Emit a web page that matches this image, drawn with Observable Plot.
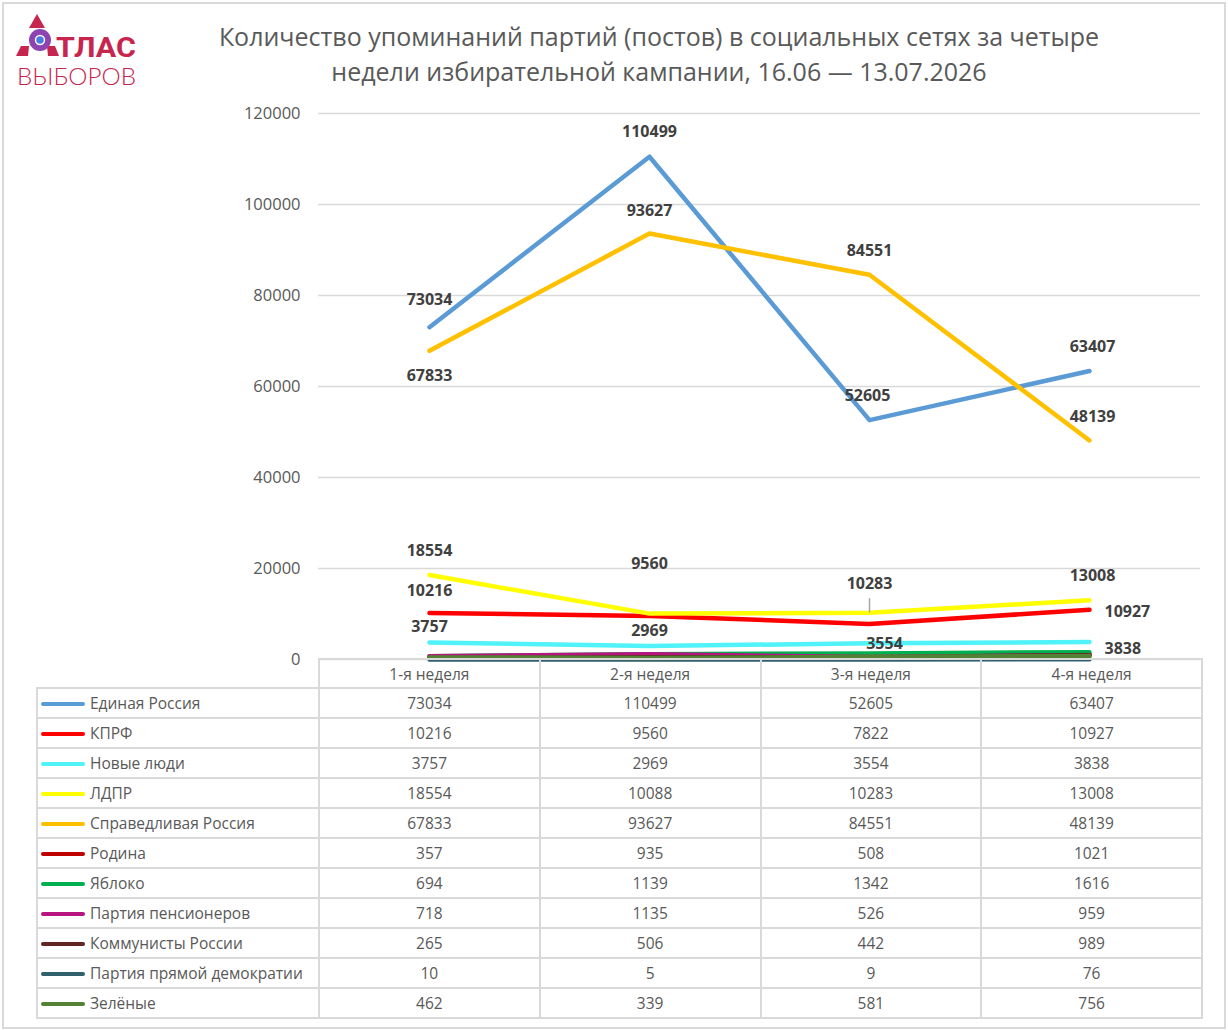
<!DOCTYPE html>
<html><head><meta charset="utf-8">
<script src="https://cdn.jsdelivr.net/npm/d3@7"></script>
<script src="https://cdn.jsdelivr.net/npm/@observablehq/plot@0.6"></script>
<style>
body{margin:0;background:#fff;}
#fig{position:relative;width:1228px;height:1030px;overflow:hidden;font-family:"Open Sans",sans-serif;color:#595959;}
#frame{position:absolute;left:2px;top:2px;width:1220px;height:1023px;border:2px solid #d9d9d9;}
#title{position:absolute;left:0;width:1318px;top:19px;text-align:center;font-size:25px;line-height:35px;color:#595959;}
#plot{position:absolute;left:0;top:95px;}
#tbl{position:absolute;left:36px;top:658px;border-collapse:collapse;table-layout:fixed;width:1165px;}
#tbl td{border:2px solid #d9d9d9;height:28px;padding:0;font-size:15.5px;color:#595959;text-align:center;white-space:nowrap;}
#tbl tr.head td{height:27px;}
#tbl td.name{text-align:left;}
#tbl td.blank{border-top:none;border-left:none;}
.sw{display:inline-block;width:44px;height:4.5px;border-radius:3px;vertical-align:middle;margin:0 5px 0 3px;position:relative;top:-1px;}
#logo{position:absolute;left:0;top:0;}
</style></head>
<body>
<div id="fig">
  <div id="frame"></div>
  <svg id="logo" width="160" height="100">
    <g fill="#c8254e">
      <path d="M37,14 L45,28 L29,28 Z"/>
      <path d="M21,46 L29,46 L28,56 L16,56 Z"/>
      <path d="M47,46 L55,46 L59,56 L48,56 Z"/>
    </g>
    <circle cx="40" cy="40" r="11" fill="#8e44b0"/>
    <circle cx="40" cy="40" r="5.2" fill="#fff"/>
    <circle cx="40" cy="40" r="3.8" fill="#4a7be0"/>
    <text x="56" y="57" font-family="Roboto, sans-serif" font-weight="700" font-size="27" fill="#c8254e" textLength="80" lengthAdjust="spacingAndGlyphs">ТЛАС</text>
    <text x="17" y="85" font-family="Lato, sans-serif" font-weight="300" font-size="23" fill="#c8254e" textLength="119" lengthAdjust="spacingAndGlyphs">ВЫБОРОВ</text>
  </svg>
  <div id="title">Количество упоминаний партий (постов) в социальных сетях за четыре<br>недели избирательной кампании, 16.06 — 13.07.2026</div>
  <div id="plot"></div>
  <table id="tbl"></table>
</div>
<script>
const weeks = ["1-я неделя", "2-я неделя", "3-я неделя", "4-я неделя"];
const parties = ["Единая Россия", "КПРФ", "Новые люди", "ЛДПР", "Справедливая Россия", "Родина", "Яблоко", "Партия пенсионеров", "Коммунисты России", "Партия прямой демократии", "Зелёные"];
const partyColors = ["#5b9bd5", "#ff0000", "#4ff3f9", "#ffff00", "#ffc000", "#c00000", "#00b050", "#b8147f", "#632523", "#2f606b", "#548235"];
const edinayaRossiya = [73034, 110499, 52605, 63407];
const kprf = [10216, 9560, 7822, 10927];
const novyeLyudi = [3757, 2969, 3554, 3838];
const ldpr = [18554, 10088, 10283, 13008];
const spravedlivayaRossiya = [67833, 93627, 84551, 48139];
const rodina = [357, 935, 508, 1021];
const yabloko = [694, 1139, 1342, 1616];
const partiyaPensionerov = [718, 1135, 526, 959];
const kommunistyRossii = [265, 506, 442, 989];
const partiyaPryamoyDemokratii = [10, 5, 9, 76];
const zelenye = [462, 339, 581, 756];
const yTicks = [0, 20000, 40000, 60000, 80000, 100000, 120000];

const seriesValues = [edinayaRossiya, kprf, novyeLyudi, ldpr, spravedlivayaRossiya, rodina, yabloko, partiyaPensionerov, kommunistyRossii, partiyaPryamoyDemokratii, zelenye];
const rows = [];
parties.forEach((p, i) => seriesValues[i].forEach((v, j) => rows.push({party: p, week: weeks[j], value: v})));

// which data labels are shown and how they are offset from their point
const labelPlacement = [
  ["Единая Россия", 0, 0, -27, "middle"], ["Единая Россия", 1, 0, -25, "middle"], ["Единая Россия", 2, -2, -24, "middle"], ["Единая Россия", 3, 3, -24, "middle"],
  ["Справедливая Россия", 0, 0, 25, "middle"], ["Справедливая Россия", 1, 0, -23, "middle"], ["Справедливая Россия", 2, 0, -24, "middle"], ["Справедливая Россия", 3, 3, -24, "middle"],
  ["ЛДПР", 0, 0, -24, "middle"], ["ЛДПР", 2, 0, -29, "middle"], ["ЛДПР", 3, 3, -24, "middle"],
  ["КПРФ", 0, 0, -22, "middle"], ["КПРФ", 1, 0, -52, "middle"], ["КПРФ", 3, 15, 2, "start"],
  ["Новые люди", 0, 0, -16, "middle"], ["Новые люди", 1, 0, -15, "middle"], ["Новые люди", 2, 15, 1, "middle"], ["Новые люди", 3, 15, 7, "start"]
];
const labelMarks = labelPlacement.map(([p, j, dx, dy, anchor]) =>
  Plot.text([{week: weeks[j], value: seriesValues[parties.indexOf(p)][j]}], {
    x: "week", y: "value", text: d => String(d.value), dx, dy, textAnchor: anchor, lineAnchor: "middle",
    fontSize: 16, fontWeight: 700, fill: "#404040"
  })
);
const leaderLine = Plot.vector([{week: weeks[2], value: ldpr[2]}], {
  x: "week", y: "value", length: 14, rotate: 0, anchor: "start", stroke: "#a6a6a6", strokeWidth: 1.5,
  shape: {draw(ctx, l) { ctx.moveTo(0, -1); ctx.lineTo(0, -l); }}
});

const chart = Plot.plot({
  width: 1228, height: 576,
  marginLeft: 318, marginRight: 28, marginTop: 18, marginBottom: 12,
  style: {fontFamily: "'Open Sans', sans-serif", color: "#595959", background: "transparent"},
  x: {type: "point", domain: weeks, padding: 0.5, axis: null},
  y: {domain: [0, 120000], axis: null},
  color: {domain: parties, range: partyColors},
  marks: [
    Plot.ruleY(yTicks, {stroke: "#d9d9d9", strokeWidth: 1.5}),
    Plot.axisY({ticks: yTicks, tickSize: 0, tickPadding: 18, tickFormat: d => String(d), fontSize: 16.5, fill: "#595959", label: null}),
    Plot.line(rows, {x: "week", y: "value", z: "party", stroke: "party", strokeWidth: 4.5, strokeLinecap: "round", strokeLinejoin: "round"}),
    leaderLine,
    ...labelMarks
  ]
});
document.getElementById("plot").appendChild(chart);

// data table below the chart
const tbl = d3.select("#tbl");
const cg = tbl.append("colgroup");
cg.append("col").style("width", "282px");
weeks.forEach(() => cg.append("col").style("width", "220.75px"));
const head = tbl.append("tr").attr("class", "head");
head.append("td").attr("class", "blank");
weeks.forEach(w => head.append("td").text(w));
parties.forEach((p, i) => {
  const tr = tbl.append("tr");
  const c = tr.append("td").attr("class", "name");
  c.append("span").attr("class", "sw").style("background", partyColors[i]);
  c.append("span").text(p);
  seriesValues[i].forEach(v => tr.append("td").text(v));
});
</script>
</body></html>
